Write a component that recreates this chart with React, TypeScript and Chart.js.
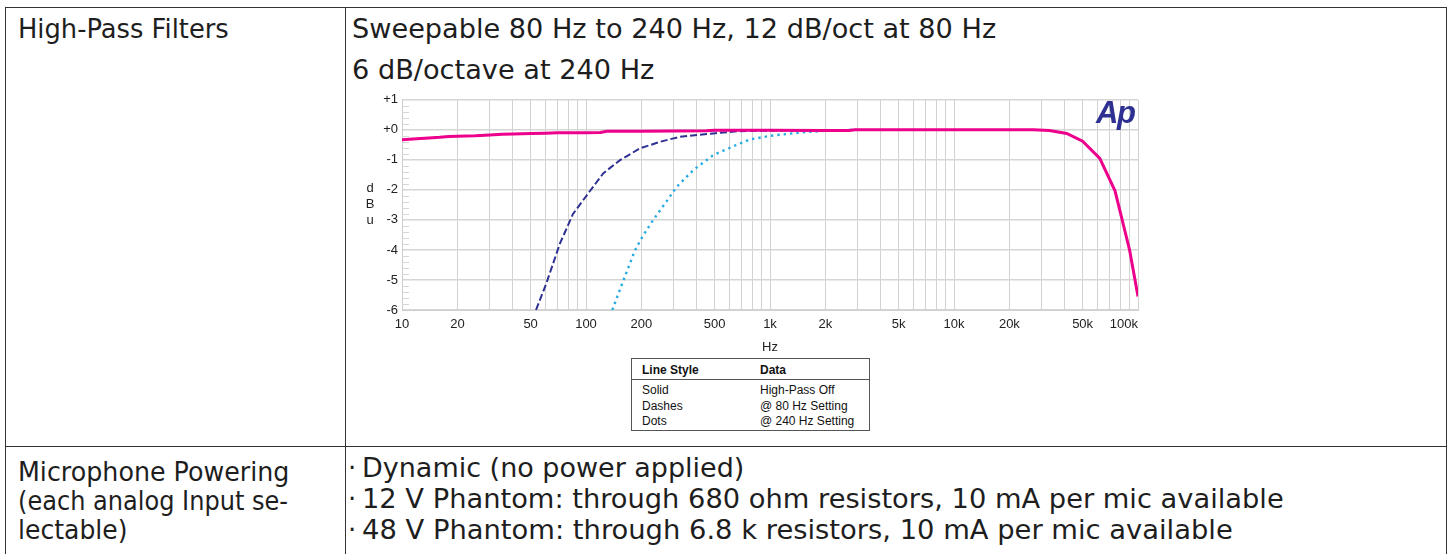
import React, { useEffect, useRef } from "react";
import { Chart, registerables } from "chart.js";

Chart.register(...registerables);

// ---- data ----
const solidHz = [10, 12, 14, 16, 18, 20, 25, 30, 35, 40, 50, 60, 70, 80, 100, 120, 130, 150, 200, 300, 450, 500, 700, 1000, 2000, 2700, 2900, 5000, 10000, 20000, 27000, 33000, 41000, 50000, 62000, 75000, 90000, 100000];
const solidDb = [-0.33, -0.3, -0.27, -0.25, -0.22, -0.21, -0.2, -0.17, -0.15, -0.14, -0.12, -0.11, -0.1, -0.1, -0.1, -0.09, -0.05, -0.05, -0.05, -0.04, -0.03, -0.01, -0.01, -0.01, -0.02, -0.02, 0, 0, 0, 0, 0, -0.02, -0.12, -0.38, -0.95, -2.03, -4.0, -5.55];

const dashHz = [53.5, 61, 72, 85, 101, 124, 153, 196, 252, 324, 492, 659, 883, 1500, 2800];
const dashDb = [-6, -5.1, -3.8, -2.8, -2.18, -1.45, -1.01, -0.62, -0.4, -0.23, -0.12, -0.05, -0.03, -0.02, 0];

const dotHz = [139, 160, 185, 203, 232, 269, 311, 383, 492, 659, 780, 1000, 1456, 2000, 2960];
const dotDb = [-6, -5.0, -4.0, -3.55, -3.0, -2.45, -1.9, -1.34, -0.84, -0.5, -0.32, -0.2, -0.09, -0.03, 0];

const xLabelValues = [10, 20, 50, 100, 200, 500, 1000, 2000, 5000, 10000, 20000, 50000, 100000];
const xLabelTexts = ["10", "20", "50", "100", "200", "500", "1k", "2k", "5k", "10k", "20k", "50k", "100k"];

const legendRows = [
  ["Solid", "High-Pass Off"],
  ["Dashes", "@ 80 Hz Setting"],
  ["Dots", "@ 240 Hz Setting"],
];

const PINK = "#ec008c";
const NAVY = "#2e3192";
const CYAN = "#29abe2";
const AXIS_FONT = "'Liberation Sans', Arial, sans-serif";

const toPoints = (xs: number[], ys: number[]) => xs.map((x, i) => ({ x, y: ys[i] }));

const extrasPlugin = {
  id: "extras",
  beforeDatasetsDraw(chart: any) {
    const { ctx, chartArea, scales } = chart;
    const y = scales.y;
    ctx.save();
    ctx.strokeStyle = "#d6d6d6";
    ctx.lineWidth = 1;
    for (let v = -6; v < 1; v += 0.2) {
      const r = Math.round(v * 10) / 10;
      if (Math.abs(r - Math.round(r)) < 0.01) continue;
      const py = Math.round(y.getPixelForValue(r)) + 0.5;
      ctx.beginPath();
      ctx.moveTo(chartArea.left, py);
      ctx.lineTo(chartArea.left + 7, py);
      ctx.stroke();
    }
    ctx.restore();
  },
  afterDraw(chart: any) {
    const { ctx, chartArea, scales } = chart;
    const x = scales.x;
    ctx.save();
    ctx.fillStyle = "#222";
    ctx.font = `13px ${AXIS_FONT}`;
    ctx.textBaseline = "top";
    xLabelValues.forEach((v, i) => {
      const px = x.getPixelForValue(v);
      const last = i === xLabelValues.length - 1;
      ctx.textAlign = last ? "right" : "center";
      ctx.fillText(xLabelTexts[i], last ? chartArea.right : px, chartArea.bottom + 8);
    });
    ctx.textAlign = "center";
    ctx.textBaseline = "middle";
    ctx.fillText("Hz", (chartArea.left + chartArea.right) / 2, chartArea.bottom + 37);
    ["d", "B", "u"].forEach((ch, i) => {
      ctx.fillText(ch, 20, 100 + i * 16);
    });
    ctx.restore();
  },
};

function FreqChart() {
  const ref = useRef<HTMLCanvasElement | null>(null);
  useEffect(() => {
    if (!ref.current) return;
    const chart = new Chart(ref.current, {
      type: "line",
      data: {
        datasets: [
          {
            label: "High-Pass Off",
            data: toPoints(solidHz, solidDb),
            borderColor: PINK,
            borderWidth: 3,
            pointRadius: 0,
            tension: 0,
          },
          {
            label: "@ 80 Hz Setting",
            data: toPoints(dashHz, dashDb),
            borderColor: NAVY,
            borderWidth: 2,
            borderDash: [7, 3],
            pointRadius: 0,
            tension: 0,
          },
          {
            label: "@ 240 Hz Setting",
            data: toPoints(dotHz, dotDb),
            borderColor: CYAN,
            borderWidth: 2.4,
            borderDash: [2.4, 4],
            pointRadius: 0,
            tension: 0,
          },
        ],
      },
      options: {
        animation: false,
        responsive: false,
        maintainAspectRatio: false,
        layout: { padding: { left: 0, top: 11.5, right: 22, bottom: 0 } },
        plugins: { legend: { display: false }, tooltip: { enabled: false } },
        scales: {
          x: {
            type: "logarithmic",
            min: 10,
            max: 100000,
            afterBuildTicks: (scale: any) => {
              const t: any[] = [];
              for (let d = 10; d <= 100000; d *= 10) {
                for (let m = 1; m <= 9; m++) {
                  const v = d * m;
                  if (v <= 100000) t.push({ value: v });
                }
              }
              scale.ticks = t;
            },
            afterFit: (scale: any) => {
              scale.height = 48;
            },
            ticks: { display: false },
            grid: { color: "#d2d2d2", lineWidth: 1, drawTicks: false },
            border: { display: true, color: "#cfcfcf" },
          },
          y: {
            type: "linear",
            min: -6,
            max: 1,
            afterFit: (scale: any) => {
              scale.width = 52;
            },
            ticks: {
              stepSize: 1,
              padding: 4,
              color: "#222",
              font: { family: AXIS_FONT, size: 13 },
              callback: (v: any) => (Number(v) >= 0 ? "+" + Math.abs(Number(v)) : String(v)),
            },
            grid: { color: "#d6d6d6", lineWidth: 1.5, drawTicks: false },
            border: { display: true, color: "#cccccc" },
          },
        },
      },
      plugins: [extrasPlugin],
    });
    return () => chart.destroy();
  }, []);
  return (
    <canvas
      ref={ref}
      width={810}
      height={270}
      style={{ position: "absolute", left: 350, top: 88, width: 810, height: 270 }}
    />
  );
}

const lineStyle = (left: number, center: number, sx = 1): React.CSSProperties => ({
  position: "absolute",
  left,
  top: center - 15,
  height: 30,
  lineHeight: "30px",
  fontSize: 26,
  whiteSpace: "nowrap",
  transform: `scaleX(${sx})`,
  transformOrigin: "0 50%",
});

const smallLine = (left: number, center: number, bold = false): React.CSSProperties => ({
  position: "absolute",
  left,
  top: center - 7,
  height: 14,
  lineHeight: "14px",
  fontSize: 12,
  fontWeight: bold ? 700 : 400,
  fontFamily: AXIS_FONT,
  color: "#111",
  whiteSpace: "nowrap",
});

export default function App() {
  const border = "#333";
  return (
    <div
      style={{
        position: "absolute",
        left: 0,
        top: 0,
        width: 1449,
        height: 554,
        overflow: "hidden",
        background: "#fff",
        fontFamily: "'DejaVu Sans', Verdana, sans-serif",
        color: "#1e1e1e",
      }}
    >
      {/* table borders */}
      <div style={{ position: "absolute", left: 5, top: 7, width: 1442, height: 1, background: border }} />
      <div style={{ position: "absolute", left: 5, top: 7, width: 1, height: 547, background: border }} />
      <div style={{ position: "absolute", left: 1446, top: 7, width: 1, height: 547, background: border }} />
      <div style={{ position: "absolute", left: 345, top: 7, width: 1, height: 547, background: border }} />
      <div style={{ position: "absolute", left: 5, top: 446, width: 1442, height: 1, background: border }} />

      {/* cell text */}
      <div style={lineStyle(18, 29, 0.99)}>High-Pass Filters</div>
      <div style={lineStyle(352, 29, 1.044)}>Sweepable 80 Hz to 240 Hz, 12 dB/oct at 80 Hz</div>
      <div style={lineStyle(352, 70, 1.045)}>6 dB/octave at 240 Hz</div>

      <div style={lineStyle(18, 472, 0.975)}>Microphone Powering</div>
      <div style={lineStyle(18, 501, 0.925)}>(each analog Input se-</div>
      <div style={lineStyle(18, 530, 0.965)}>lectable)</div>

      <div style={lineStyle(348, 468)}>·</div>
      <div style={lineStyle(362, 468, 1.038)}>Dynamic (no power applied)</div>
      <div style={lineStyle(348, 499)}>·</div>
      <div style={lineStyle(362, 499, 1.049)}>12 V Phantom: through 680 ohm resistors, 10 mA per mic available</div>
      <div style={lineStyle(348, 530)}>·</div>
      <div style={lineStyle(362, 530, 1.052)}>48 V Phantom: through 6.8 k resistors, 10 mA per mic available</div>

      <FreqChart />

      {/* Ap logo */}
      <div
        style={{
          position: "absolute",
          left: 1096,
          top: 96,
          fontFamily: AXIS_FONT,
          fontWeight: 700,
          fontStyle: "italic",
          fontSize: 31,
          lineHeight: "34px",
          color: NAVY,
          letterSpacing: -1.5,
        }}
      >
        Ap
      </div>

      {/* legend table */}
      <div
        style={{
          position: "absolute",
          left: 631,
          top: 358,
          width: 237,
          height: 71,
          border: "1px solid #555",
        }}
      />
      <div style={{ position: "absolute", left: 631, top: 379, width: 239, height: 1, background: "#555" }} />
      <div style={smallLine(642, 370, true)}>Line Style</div>
      <div style={smallLine(760, 370, true)}>Data</div>
      {legendRows.map((r, i) => (
        <React.Fragment key={i}>
          <div style={smallLine(642, 390 + i * 15.5)}>{r[0]}</div>
          <div style={smallLine(760, 390 + i * 15.5)}>{r[1]}</div>
        </React.Fragment>
      ))}
    </div>
  );
}
